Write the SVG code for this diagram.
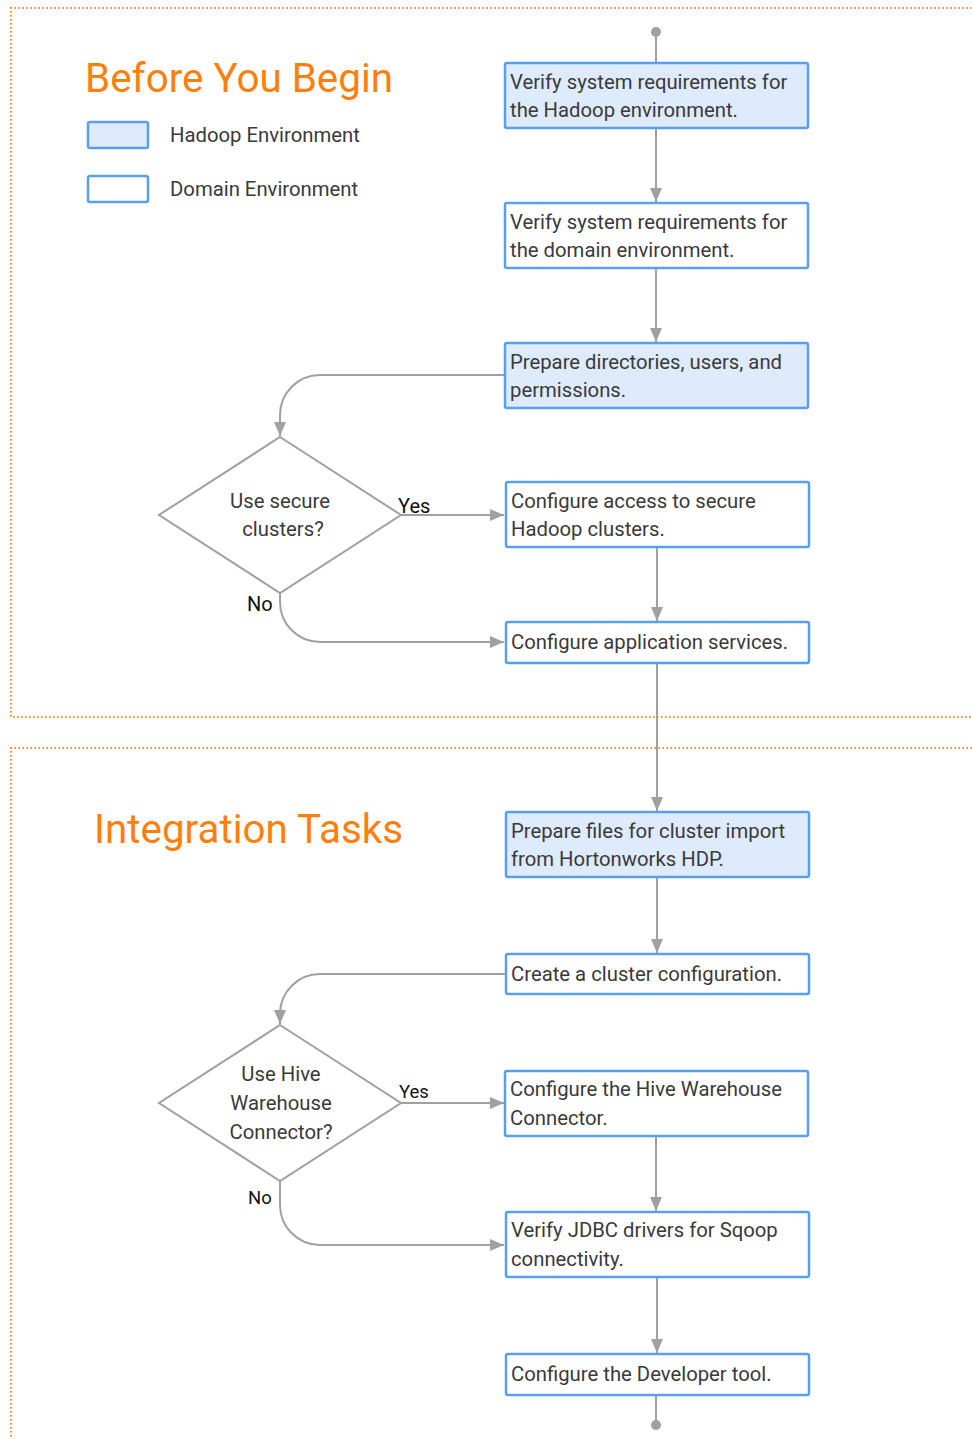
<svg xmlns="http://www.w3.org/2000/svg" width="972" height="1439" viewBox="0 0 972 1439">
<style>
.sec{fill:none;stroke:#ff8a1f;stroke-width:2;stroke-dasharray:1.5 2.5}
.title{font-family:Roboto,"Liberation Sans",sans-serif;font-size:40.4px;fill:#ff7f0e}
.hb{fill:#deebfd;stroke:#5a9ef0;stroke-width:2.5}
.db{fill:#ffffff;stroke:#5a9ef0;stroke-width:2.5}
.t{font-family:Roboto,"Liberation Sans",sans-serif;font-size:20.3px;fill:#3a3a3a}
.lbl{font-family:Roboto,"Liberation Sans",sans-serif;font-size:20px;fill:#111111}
.dia{fill:#ffffff;stroke:#a0a0a0;stroke-width:2}
.c{fill:none;stroke:#a0a0a0;stroke-width:2}
</style>
<defs>
<marker id="ah" viewBox="0 0 14 12" refX="14" refY="6" markerWidth="14" markerHeight="12" markerUnits="userSpaceOnUse" orient="auto">
<path d="M0,0 L14,6 L0,12 z" fill="#a0a0a0"/>
</marker>
</defs>
<g id="sections">
<path class="sec" d="M972,8 H11 V717 H972"/>
<path class="sec" d="M972,748 H11 V1439"/>
</g>
<g id="titles">
<text class="title" x="85" y="92">Before You Begin</text>
<text class="title" x="94" y="843">Integration Tasks</text>
</g>
<g id="legend">
<rect class="hb" x="88" y="122" width="60" height="26" rx="2"/>
<text class="t" x="170" y="142">Hadoop Environment</text>
<rect class="db" x="88" y="176" width="60" height="26" rx="2"/>
<text class="t" x="170" y="196">Domain Environment</text>
</g>
<g id="connectors">
<circle cx="656" cy="32" r="5" fill="#a0a0a0"/>
<line class="c" x1="656" y1="32" x2="656" y2="63"/>
<line class="c" x1="656" y1="128" x2="656" y2="202" marker-end="url(#ah)"/>
<line class="c" x1="656" y1="268" x2="656" y2="342" marker-end="url(#ah)"/>
<path class="c" d="M505,375 H320 A40,40 0 0 0 280,415 V436" marker-end="url(#ah)"/>
<line class="c" x1="401" y1="515" x2="504" y2="515" marker-end="url(#ah)"/>
<path class="c" d="M280,593 V602 A40,40 0 0 0 320,642 H504" marker-end="url(#ah)"/>
<line class="c" x1="657" y1="547" x2="657" y2="621" marker-end="url(#ah)"/>
<line class="c" x1="657" y1="663" x2="657" y2="811" marker-end="url(#ah)"/>
<line class="c" x1="657" y1="877" x2="657" y2="953" marker-end="url(#ah)"/>
<path class="c" d="M506,974 H320 A40,40 0 0 0 280,1014 V1024" marker-end="url(#ah)"/>
<line class="c" x1="401" y1="1103" x2="504" y2="1103" marker-end="url(#ah)"/>
<path class="c" d="M280,1181 V1205 A40,40 0 0 0 320,1245 H504" marker-end="url(#ah)"/>
<line class="c" x1="656" y1="1136" x2="656" y2="1211" marker-end="url(#ah)"/>
<line class="c" x1="657" y1="1277" x2="657" y2="1353" marker-end="url(#ah)"/>
<line class="c" x1="656" y1="1395" x2="656" y2="1425"/>
<circle cx="656" cy="1425" r="5" fill="#a0a0a0"/>
<text class="lbl" x="398" y="513">Yes</text>
<text class="lbl" x="247" y="611">No</text>
<text class="lbl" x="399" y="1098" style="font-size:18.5px">Yes</text>
<text class="lbl" x="248" y="1204" style="font-size:18.5px">No</text>
</g>
<g id="n1">
<rect class="hb" x="505" y="63" width="303" height="65" rx="2"/>
<text class="t" x="510" y="89">Verify system requirements for</text>
<text class="t" x="510" y="117">the Hadoop environment.</text>
</g>
<g id="n2">
<rect class="db" x="505" y="203" width="303" height="65" rx="2"/>
<text class="t" x="510" y="229">Verify system requirements for</text>
<text class="t" x="510" y="257">the domain environment.</text>
</g>
<g id="n3">
<rect class="hb" x="505" y="343" width="303" height="65" rx="2"/>
<text class="t" x="510" y="369">Prepare directories, users, and</text>
<text class="t" x="510" y="397">permissions.</text>
</g>
<g id="d1">
<polygon class="dia" points="280,437 401,515 280,593 159,515"/>
<text class="t" x="280" y="508" text-anchor="middle">Use secure</text>
<text class="t" x="283" y="536" text-anchor="middle">clusters?</text>
</g>
<g id="n4">
<rect class="db" x="506" y="482" width="303" height="65" rx="2"/>
<text class="t" x="511" y="508">Configure access to secure</text>
<text class="t" x="511" y="536">Hadoop clusters.</text>
</g>
<g id="n5">
<rect class="db" x="506" y="622" width="303" height="41" rx="2"/>
<text class="t" x="511" y="649">Configure application services.</text>
</g>
<g id="n6">
<rect class="hb" x="506" y="812" width="303" height="65" rx="2"/>
<text class="t" x="511" y="838">Prepare files for cluster import</text>
<text class="t" x="511" y="866">from Hortonworks HDP.</text>
</g>
<g id="n7">
<rect class="db" x="506" y="954" width="303" height="40" rx="2"/>
<text class="t" x="511" y="981">Create a cluster configuration.</text>
</g>
<g id="d2">
<polygon class="dia" points="280,1025 401,1103 280,1181 159,1103"/>
<text class="t" x="281" y="1081" text-anchor="middle">Use Hive</text>
<text class="t" x="281" y="1110" text-anchor="middle">Warehouse</text>
<text class="t" x="281" y="1139" text-anchor="middle">Connector?</text>
</g>
<g id="n8">
<rect class="db" x="505" y="1071" width="303" height="65" rx="2"/>
<text class="t" x="510" y="1096">Configure the Hive Warehouse</text>
<text class="t" x="510" y="1125">Connector.</text>
</g>
<g id="n9">
<rect class="db" x="506" y="1212" width="303" height="65" rx="2"/>
<text class="t" x="511" y="1237">Verify JDBC drivers for Sqoop</text>
<text class="t" x="511" y="1266">connectivity.</text>
</g>
<g id="n10">
<rect class="db" x="506" y="1354" width="303" height="41" rx="2"/>
<text class="t" x="511" y="1381">Configure the Developer tool.</text>
</g>
</svg>
